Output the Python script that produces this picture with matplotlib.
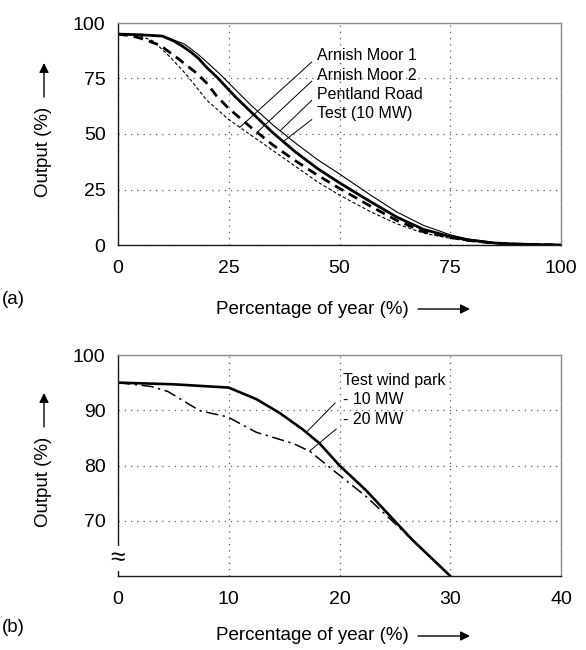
import numpy as np
import matplotlib
matplotlib.use('Agg')
import matplotlib.pyplot as plt

plt.rcParams['font.family'] = ['Liberation Sans', 'DejaVu Sans']

# duration curves, panel (a)
test_x = [0, 5, 10, 12.5, 14.6, 16.7, 18.2, 20, 22.4, 24.5, 26.6, 30, 35, 40, 45, 50, 57, 63, 69, 75, 79, 85, 90, 100]
test_y = [95, 94.7, 94.1, 92, 89.5, 86.5, 84, 80, 75.5, 71, 66.5, 60, 50.5, 42, 34.5, 28, 19.5, 12.5, 7, 3.8, 2.3, 0.9, 0.4, 0]

pentland_x = [0, 5, 10, 15, 18, 20, 23, 25, 30, 35, 40, 45, 50, 57, 63, 69, 75, 79, 85, 90, 100]
pentland_y = [95, 94.8, 94.3, 90.5, 86, 82.5, 77, 73, 63, 54, 46, 38.5, 32, 22.5, 14.8, 8.8, 4.6, 2.7, 1.1, 0.5, 0]

am2_x = [0, 3, 5, 9.5, 14, 17.8, 20, 22.3, 25, 30, 35, 40, 45, 50, 57, 63, 69, 75, 79, 85, 90, 100]
am2_y = [95, 94.2, 93.2, 90, 83.3, 77.3, 73, 67, 61.5, 53, 45, 38, 31.5, 25.5, 17.5, 11, 6, 3.4, 2.1, 0.8, 0.4, 0]

am1_x = [0, 5, 8, 11.7, 15.5, 20, 25, 27.5, 30, 35, 40, 45, 50, 57, 63, 69, 75, 79, 85, 90, 100]
am1_y = [95, 94.2, 91.8, 84.8, 76.6, 65.3, 56.5, 53, 49.5, 42.5, 35.5, 28.5, 22.5, 15, 9.5, 5.3, 3, 1.9, 0.8, 0.4, 0]

# panel (b): 20 MW test park (10 MW uses test curve)
mw20_x = [0, 3, 4.5, 7.4, 9.9, 12.5, 15.8, 17.3, 19.4, 22.4, 24, 26.6, 30]
mw20_y = [95, 94.3, 93.4, 89.9, 88.8, 86, 84, 82.6, 79.2, 74.4, 71.4, 66.5, 60]

ticks_a_x = [0, 25, 50, 75, 100]
ticks_a_y = [0, 25, 50, 75, 100]
ticks_b_x = [0, 10, 20, 30, 40]
ticks_b_y = [70, 80, 90, 100]

W, H = 586, 650
fs = 13.5
tfs = 14
afs = 11.5


def fpos(x, y):
    return x / W, 1 - y / H


def styleAxes(ax):
    ax.tick_params(length=0, labelsize=tfs)
    ax.tick_params(axis='y', pad=9)
    ax.tick_params(axis='x', pad=11)
    ax.grid(True, color='0.35', linestyle=(0, (1, 4)), linewidth=0.9)
    for side in ['left', 'bottom']:
        ax.spines[side].set_color('0.1')
        ax.spines[side].set_linewidth(1.0)
    for side in ['top', 'right']:
        ax.spines[side].set_color('0.55')
        ax.spines[side].set_linewidth(1.0)


def leader(ax, textPos, endX, curveX, curveY):
    endY = np.interp(endX, curveX, curveY)
    ax.plot([textPos[0], endX], [textPos[1], endY], color='k', lw=0.7)


fig = plt.figure(figsize=(W / 100, H / 100), dpi=100)

# ---- panel (a)
axA = fig.add_axes([118 / W, 1 - 245 / H, (561 - 118) / W, (245 - 23) / H])
axA.plot(pentland_x, pentland_y, color='k', lw=0.8)
axA.plot(am1_x, am1_y, color='k', lw=0.8, dashes=(3, 2))
axA.plot(am2_x, am2_y, color='k', lw=2.0, dashes=(3.5, 2.2))
axA.plot(test_x, test_y, color='k', lw=2.0)
axA.set_xlim(0, 100)
axA.set_ylim(0, 100)
axA.set_xticks(ticks_a_x)
axA.set_yticks(ticks_a_y)
styleAxes(axA)

namesA = ['Arnish Moor 1', 'Arnish Moor 2', 'Pentland Road', 'Test (10 MW)']
curvesA = [(am1_x, am1_y), (am2_x, am2_y), (pentland_x, pentland_y), (test_x, test_y)]
endsA = [27.5, 31.4, 36.6, 37.3]
for i, name in enumerate(namesA):
    yc = 56 + i * 19.2
    fig.text(317 / W, 1 - yc / H, name, fontsize=afs, va='center', ha='left')
    startX = (311.7 - 118) / 443 * 100
    startY = (245 - (yc + 6)) / 222 * 100
    leader(axA, (startX, startY), endsA[i], *curvesA[i])

# ---- panel (b)
axB = fig.add_axes([118 / W, 1 - 576 / H, (561 - 118) / W, (576 - 355) / H])
axB.plot(mw20_x, mw20_y, color='k', lw=1.1, dashes=(8, 3, 1.5, 3))
axB.plot(test_x, test_y, color='k', lw=1.9)
axB.set_xlim(0, 40)
axB.set_ylim(60, 100)
axB.set_xticks(ticks_b_x)
axB.set_yticks(ticks_b_y)
styleAxes(axB)
axB.text(0, 63.2, '\u2248', fontsize=19, ha='center', va='center',
         bbox=dict(facecolor='white', edgecolor='none', pad=0.3), clip_on=False)

fig.text(343 / W, 1 - 381 / H, 'Test wind park', fontsize=afs, va='center')
fig.text(343 / W, 1 - 400 / H, '- 10 MW', fontsize=afs, va='center')
fig.text(343 / W, 1 - 419.3 / H, '- 20 MW', fontsize=afs, va='center')
leader(axB, (19.6, 91.3), 17.0, test_x, test_y)
leader(axB, (19.7, 86.6), 17.3, mw20_x, mw20_y)

# ---- axis labels with arrows
arrowProps = dict(arrowstyle='-|>', color='k', lw=1.0, mutation_scale=14, shrinkA=0, shrinkB=0)
for yc, a0, a1 in [(152, 97, 63), (482, 427, 393)]:
    fig.text(*fpos(44, yc), 'Output (%)', fontsize=fs, rotation=90, ha='center', va='center')
    fig.add_artist(matplotlib.patches.FancyArrowPatch(fpos(44, a0), fpos(44, a1),
                   transform=fig.transFigure, **arrowProps))

for yc, tag, tagY in [(309, '(a)', 300), (636, '(b)', 628)]:
    fig.text(*fpos(312, yc), 'Percentage of year (%)', fontsize=fs, ha='center', va='center')
    fig.add_artist(matplotlib.patches.FancyArrowPatch(fpos(418, yc), fpos(470, yc),
                   transform=fig.transFigure, **arrowProps))
    fig.text(*fpos(2, tagY), tag, fontsize=fs, ha='left', va='center')

fig.savefig('out.png', dpi=100)
